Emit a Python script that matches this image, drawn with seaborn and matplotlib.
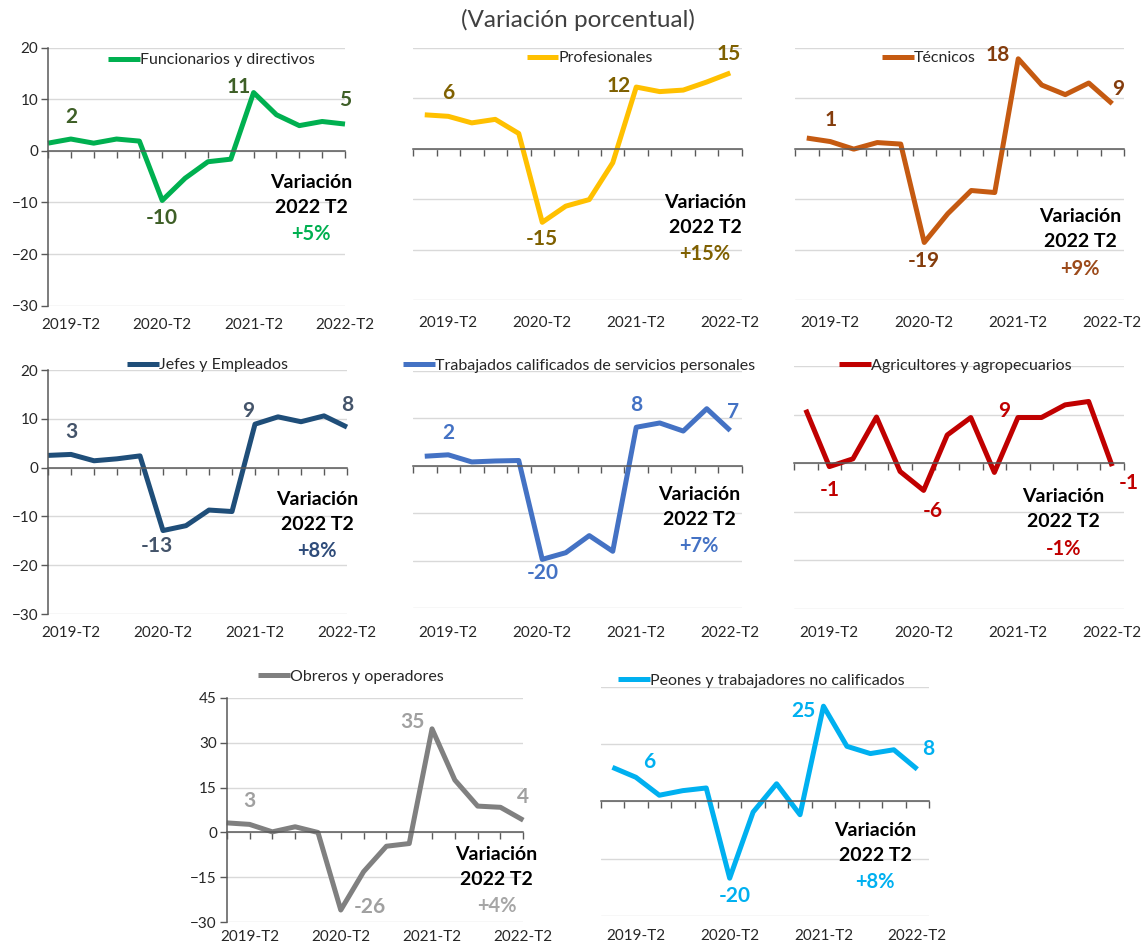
import matplotlib
matplotlib.use('Agg')
import matplotlib.pyplot as plt
import seaborn as sns
import numpy as np

quarters = ['2019-T1', '2019-T2', '2019-T3', '2019-T4',
            '2020-T1', '2020-T2', '2020-T3', '2020-T4',
            '2021-T1', '2021-T2', '2021-T3', '2021-T4',
            '2022-T1', '2022-T2']
shown_labels = ['2019-T2', '2020-T2', '2021-T2', '2022-T2']

funcionarios = [1.5, 2.3, 1.5, 2.3, 1.9, -9.6, -5.3, -2.1, -1.6, 11.3, 7.0, 4.9, 5.7, 5.2]
profesionales = [6.7, 6.4, 5.1, 5.8, 3.0, -14.6, -11.4, -10.1, -2.8, 12.2, 11.3, 11.6, 13.2, 15.0]
tecnicos = [2.1, 1.4, -0.1, 1.2, 0.9, -18.6, -12.9, -8.3, -8.7, 17.8, 12.6, 10.7, 13.0, 8.9]
jefes = [2.5, 2.7, 1.4, 1.8, 2.4, -12.9, -11.9, -8.7, -9.0, 8.9, 10.4, 9.4, 10.6, 8.3]
trabajados = [2.0, 2.3, 0.8, 1.0, 1.1, -19.7, -18.3, -14.7, -18.0, 8.1, 9.0, 7.3, 12.0, 7.4]
agricultores = [11.0, -0.7, 0.9, 9.5, -1.7, -5.6, 5.8, 9.4, -1.9, 9.4, 9.4, 12.0, 12.7, -0.6]
obreros = [3.2, 2.7, 0.2, 1.9, 0.0, -25.9, -13.1, -4.6, -3.7, 34.6, 17.5, 8.8, 8.4, 4.1]
peones = [8.9, 6.3, 1.6, 2.8, 3.5, -20.1, -2.8, 4.6, -3.5, 24.9, 14.4, 12.5, 13.5, 8.4]

labelled_points = [1, 5, 9, 13]

W, H = 1148, 946


def rect(l, r, t, b):
    return [l / W, 1 - b / H, (r - l) / W, (b - t) / H]


# name, values, line colour, label colour, pct colour, rect, ylim, yticks, show y, points on ticks,
# legend centre, "Variación" anchor, data-label offsets (px), gap of x labels below axes (px)
panels = [
    ('Funcionarios y directivos', funcionarios, '#00B050', '#3E5F27', '#00B050',
     rect(48, 345, 47.7, 305.7), (-30, 20), range(-30, 21, 10), True, True,
     (0.55, 0.952), (0.886, 0.479), [(0, 22), (0, -18), (-15, 6), (0, 24)], 19),
    ('Profesionales', profesionales, '#FFC000', '#7F6000', '#7F6000',
     rect(413, 742, 47.7, 300), (-30, 20), range(-30, 21, 10), False, False,
     (0.537, 0.958), (0.888, 0.388), [(0, 23), (0, -17), (-18, 1), (-2, 19)], 23),
    ('Técnicos', tecnicos, '#C55A11', '#843C0C', '#9C4A1A',
     rect(795, 1124, 47.7, 300), (-30, 20), range(-30, 21, 10), False, False,
     (0.407, 0.958), (0.866, 0.329), [(0, 22), (0, -19), (-20, 4), (6, 15)], 23),
    ('Jefes y Empleados', jefes, '#1F4E79', '#44546A', '#2F4C7A',
     rect(48, 347, 370, 614), (-30, 20), range(-30, 21, 10), True, True,
     (0.534, 1.02), (0.90, 0.471), [(0, 22), (-6, -15), (-7, 13), (0, 22)], 19),
    ('Trabajados calificados de servicios personales', trabajados, '#4472C4', '#4472C4', '#4472C4',
     rect(413, 742, 370.7, 608.3), (-30, 20), range(-30, 21, 10), False, False,
     (0.505, 1.02), (0.869, 0.481), [(0, 22), (0, -14), (0, 22), (3, 19)], 25),
    ('Agricultores y agropecuarios', agricultores, '#C00000', '#C00000', '#C00000',
     rect(794, 1124, 366, 609), (-30, 20), range(-30, 21, 10), False, False,
     (0.49, 1.0), (0.817, 0.461), [(0, -23), (9, -21), (-14, 7), (17, -17)], 24),
    ('Obreros y operadores', obreros, '#808080', '#A0A0A0', '#A6A6A6',
     rect(226.7, 523.3, 697.7, 922.3), (-30, 45), range(-30, 46, 15), True, True,
     (0.42, 1.094), (0.91, 0.304), [(0, 23), (29, 3), (-20, 7), (0, 23)], 15),
    ('Peones y trabajadores no calificados', peones, '#00B0F0', '#00B0F0', '#00B0F0',
     rect(600.7, 929, 686.7, 916), (-30, 30), range(-30, 31, 15), False, False,
     (0.488, 1.026), (0.836, 0.375), [(13, 15), (5, -18), (-20, -5), (11, 20)], 20),
]

sns.set_theme(style='white')
plt.rcParams['font.family'] = ['Lato', 'DejaVu Sans']

fig = plt.figure(figsize=(11.48, 9.46), dpi=100)
fig.text(578 / W, 1 - 20 / H, '(Variación porcentual)', ha='center', va='center',
         fontsize=17.5, color='#404040')

x = np.arange(len(quarters))
label_pos = [quarters.index(q) for q in shown_labels]

for (name, vals, lc, tc, pc, r, ylim, yticks, show_y, on_ticks,
     leg, var_anchor, offsets, dy) in panels:
    ax = fig.add_axes(r)
    sns.lineplot(x=x, y=vals, ax=ax, color=lc, linewidth=3.6, label=name,
                 clip_on=False, solid_capstyle='butt')
    ax.set_ylim(*ylim)
    if on_ticks:
        ax.set_xlim(0, len(x) - 1)
        ax.set_xticks(x)
    else:
        ax.set_xlim(-0.5, len(x) - 0.5)
        ax.set_xticks(np.arange(len(x) + 1) - 0.5)
    ax.set_yticks(list(yticks))
    ax.grid(axis='y', color='#D9D9D9', linewidth=1)
    ax.set_axisbelow(True)
    for s in ['top', 'right']:
        ax.spines[s].set_visible(False)
    ax.spines['bottom'].set_position(('data', 0))
    ax.spines['bottom'].set_color('#595959')
    ax.spines['bottom'].set_linewidth(1.1)
    ax.tick_params(axis='x', bottom=True, direction='out', length=5, width=1,
                   color='#595959', labelbottom=False)
    if show_y:
        ax.spines['left'].set_color('#595959')
        ax.spines['left'].set_linewidth(1.1)
        ax.tick_params(axis='y', left=True, direction='out', length=5, width=1,
                       color='#595959', labelsize=11, labelcolor='#262626', pad=2)
    else:
        ax.spines['left'].set_visible(False)
        ax.tick_params(axis='y', left=False, labelleft=False)
    ax.set_xlabel('')
    ax.set_ylabel('')

    for p, lab in zip(label_pos, shown_labels):
        ax.annotate(lab, xy=(p, 0), xycoords=('data', 'axes fraction'),
                    xytext=(0, -dy), textcoords='offset pixels',
                    ha='center', va='center', fontsize=11, color='#262626',
                    annotation_clip=False)

    for idx, off in zip(labelled_points, offsets):
        ax.annotate(f'{int(np.round(vals[idx]))}', xy=(idx, vals[idx]),
                    xytext=off, textcoords='offset pixels', ha='center', va='center',
                    fontsize=15, fontweight='bold', color=tc, annotation_clip=False)

    ax.annotate('Variación', xy=var_anchor, xycoords='axes fraction',
                ha='center', va='center', fontsize=14, fontweight='bold', color='black')
    ax.annotate('2022 T2', xy=var_anchor, xycoords='axes fraction', xytext=(0, -25),
                textcoords='offset pixels', ha='center', va='center',
                fontsize=14, fontweight='bold', color='black')
    ax.annotate(f'{int(np.round(vals[-1])):+d}%', xy=var_anchor, xycoords='axes fraction',
                xytext=(0, -52), textcoords='offset pixels', ha='center', va='center',
                fontsize=14.5, fontweight='bold', color=pc)

    ax.legend(loc='center', bbox_to_anchor=leg, frameon=False, fontsize=11.5,
              handlelength=2.0, handletextpad=0.0, borderpad=0, borderaxespad=0)

fig.savefig('out.png', dpi=100)
